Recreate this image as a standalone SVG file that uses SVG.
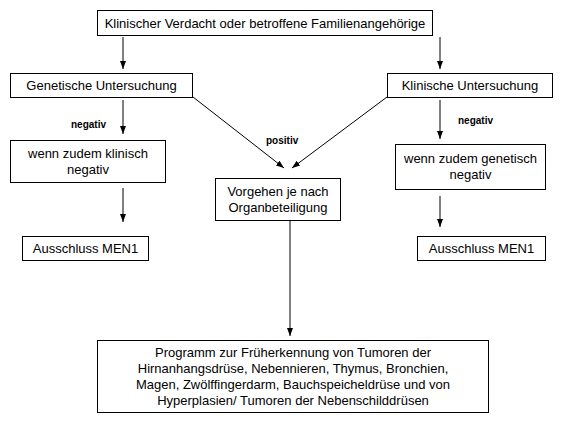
<svg xmlns="http://www.w3.org/2000/svg" width="563" height="430" viewBox="0 0 563 430">
<style>
.box{fill:#fff;stroke:#000;stroke-width:1}
.t{font-family:"Liberation Sans",Arial,sans-serif;font-size:13px;fill:#000;text-anchor:middle}
.lbl{font-family:"Liberation Sans",Arial,sans-serif;font-size:10px;font-weight:bold;fill:#000}
.c{stroke:#000;stroke-width:1;fill:none}
</style>
<defs>
<marker id="ah" viewBox="0 0 8 8" refX="8" refY="4" markerWidth="8" markerHeight="8" markerUnits="userSpaceOnUse" orient="auto">
<path d="M0,1 L8,4 L0,7 Z" fill="#000"/>
</marker>
</defs>
<rect width="563" height="430" fill="#fff"/>
<g id="connectors">
<line class="c" x1="123" y1="37" x2="123" y2="69" marker-end="url(#ah)"/>
<line class="c" x1="440" y1="37" x2="440" y2="69" marker-end="url(#ah)"/>
<line class="c" x1="123" y1="100" x2="123" y2="134" marker-end="url(#ah)"/>
<line class="c" x1="440" y1="100" x2="440" y2="139" marker-end="url(#ah)"/>
<line class="c" x1="193" y1="97" x2="284" y2="168" marker-end="url(#ah)"/>
<line class="c" x1="387" y1="97" x2="292" y2="168" marker-end="url(#ah)"/>
<line class="c" x1="123" y1="188" x2="123" y2="222" marker-end="url(#ah)"/>
<line class="c" x1="440" y1="196" x2="440" y2="227" marker-end="url(#ah)"/>
<line class="c" x1="290" y1="221" x2="290" y2="336" marker-end="url(#ah)"/>
<text class="lbl" x="71" y="128">negativ</text>
<text class="lbl" x="458" y="124">negativ</text>
<text class="lbl" x="266" y="144">positiv</text>
</g>
<g id="n-start">
<rect class="box" x="97.5" y="10.5" width="335" height="25"/>
<text class="t" x="265" y="28">Klinischer Verdacht oder betroffene Familienangehörige</text>
</g>
<g id="n-genetisch">
<rect class="box" x="10.5" y="73.5" width="182" height="24"/>
<text class="t" x="101.5" y="90">Genetische Untersuchung</text>
</g>
<g id="n-klinisch">
<rect class="box" x="387.5" y="73.5" width="165" height="24"/>
<text class="t" x="470" y="90">Klinische Untersuchung</text>
</g>
<g id="n-wenn-klinisch">
<rect class="box" x="10.5" y="140.5" width="155" height="42"/>
<text class="t" x="88" y="158">wenn zudem klinisch</text>
<text class="t" x="88" y="174">negativ</text>
</g>
<g id="n-wenn-genetisch">
<rect class="box" x="395.5" y="144.5" width="150" height="45"/>
<text class="t" x="470.5" y="163">wenn zudem genetisch</text>
<text class="t" x="470.5" y="179">negativ</text>
</g>
<g id="n-vorgehen">
<rect class="box" x="215.5" y="178.5" width="125" height="42"/>
<text class="t" x="278" y="196">Vorgehen je nach</text>
<text class="t" x="278" y="212">Organbeteiligung</text>
</g>
<g id="n-ausschluss-l">
<rect class="box" x="22.5" y="236.5" width="126" height="24"/>
<text class="t" x="85.5" y="253">Ausschluss MEN1</text>
</g>
<g id="n-ausschluss-r">
<rect class="box" x="417.5" y="236.5" width="128" height="24"/>
<text class="t" x="481.5" y="253">Ausschluss MEN1</text>
</g>
<g id="n-programm">
<rect class="box" x="97.5" y="340.5" width="391" height="72"/>
<text class="t" x="293" y="357">Programm zur Früherkennung von Tumoren der</text>
<text class="t" x="293" y="373">Hirnanhangsdrüse, Nebennieren, Thymus, Bronchien,</text>
<text class="t" x="293" y="389">Magen, Zwölffingerdarm, Bauchspeicheldrüse und von</text>
<text class="t" x="293" y="405">Hyperplasien/ Tumoren der Nebenschilddrüsen</text>
</g>
</svg>
